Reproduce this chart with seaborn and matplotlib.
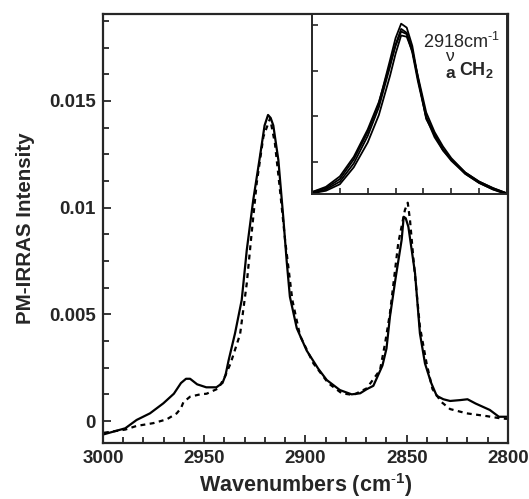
import numpy as np
import pandas as pd
import matplotlib
matplotlib.use("Agg")
import matplotlib.pyplot as plt
from matplotlib.ticker import MultipleLocator
import seaborn as sns

# Main spectrum, solid trace (wavenumber in cm-1, PM-IRRAS intensity)
solid_wn = [2999.5, 2995, 2989, 2983.4, 2976.8, 2970.2, 2965, 2961.5, 2959, 2957,
            2953.5, 2949, 2944, 2941, 2939.5, 2938, 2934.8, 2931.5, 2929, 2925.8,
            2922.5, 2920.2, 2918.5, 2917.2, 2915.9, 2913.4, 2911, 2909.3, 2907.7, 2904.3,
            2899.4, 2893.7, 2889.5, 2883, 2877.2, 2873, 2869.8, 2866.5, 2862, 2860,
            2858.3, 2855.5, 2852.5, 2851.5, 2850.5, 2849.2, 2845.9, 2843.5, 2841, 2838,
            2835.2, 2831.9, 2828.6, 2823.7, 2820, 2816, 2809, 2804.5, 2800.5]
solid_int = [-0.00062, -0.0005, -0.00034, 0.00005, 0.00036, 0.00083, 0.00128, 0.00178, 0.00198, 0.00198,
             0.00172, 0.00158, 0.00158, 0.00178, 0.00215, 0.00283, 0.00411, 0.00567, 0.00801, 0.01036,
             0.01239, 0.01385, 0.01434, 0.0142, 0.01385, 0.01223, 0.00957, 0.0075, 0.00582, 0.00435,
             0.0033, 0.00245, 0.00192, 0.00145, 0.00125, 0.0013, 0.00149, 0.00165, 0.0026, 0.0034,
             0.00489, 0.0067, 0.0085, 0.00957, 0.0095, 0.0091, 0.00692, 0.00411, 0.0027, 0.0018,
             0.00118, 0.00102, 0.00094, 0.00098, 0.00102, 0.00082, 0.00052, 0.0002, 0.0002]

# Main spectrum, dashed trace
dash_wn = [2999.5, 2989, 2983.4, 2975.2, 2968.5, 2963.6, 2961.5, 2960.3, 2957, 2952,
           2948.8, 2943, 2939.8, 2937, 2932.3, 2929, 2926.6, 2924.1, 2920.8, 2917.5,
           2915.1, 2912.6, 2910.1, 2906.5, 2902.7, 2896.1, 2888.7, 2882.1, 2876.4, 2869.8,
           2863.2, 2860.7, 2858.3, 2854.2, 2850.9, 2849.5, 2848.4, 2846.8, 2843.5, 2840.2,
           2837.3, 2833, 2828.6, 2820.4, 2810.5, 2804, 2800.5]
dash_int = [-0.00055, -0.0004, -0.00023, -0.0001, 0.00008, 0.00036, 0.0006, 0.00088, 0.00114, 0.00125,
            0.00128, 0.00153, 0.00208, 0.0027, 0.00407, 0.00645, 0.0088, 0.01114, 0.01332, 0.01418,
            0.01301, 0.01082, 0.0085, 0.00567, 0.004, 0.0027, 0.00177, 0.0013, 0.00122, 0.00153,
            0.00239, 0.00364, 0.00505, 0.00833, 0.00989, 0.01023, 0.00942, 0.0077, 0.00442, 0.0027,
            0.0015, 0.0009, 0.00056, 0.00036, 0.00023, 0.00013, 0.0001]

# Inset: the 2918 cm-1 band for four spectra
inset_wn = [2950, 2945, 2940, 2935, 2930, 2926, 2922, 2920, 2918, 2916,
            2914, 2912, 2909, 2906, 2903, 2900, 2895, 2890, 2885, 2880]
inset_a = [0.0012, 0.0015, 0.0022, 0.0037, 0.0058, 0.0080, 0.0113, 0.0130, 0.0141, 0.0138,
           0.0124, 0.0100, 0.0068, 0.0056, 0.0044, 0.0037, 0.0027, 0.0020, 0.0015, 0.0011]
inset_b = [0.0011, 0.0014, 0.0020, 0.0034, 0.0055, 0.0077, 0.0108, 0.0125, 0.0137, 0.0134,
           0.0121, 0.0099, 0.0070, 0.0056, 0.0045, 0.0037, 0.0026, 0.0019, 0.0014, 0.0011]
inset_c = [0.0011, 0.0013, 0.0018, 0.0031, 0.0050, 0.0071, 0.0101, 0.0118, 0.0132, 0.0131,
           0.0120, 0.0101, 0.0073, 0.0058, 0.0047, 0.0038, 0.0027, 0.0020, 0.0015, 0.0011]
inset_d = [0.0012, 0.0016, 0.0024, 0.0039, 0.0060, 0.0081, 0.0110, 0.0124, 0.0135, 0.0133,
           0.0119, 0.0097, 0.0069, 0.0054, 0.0044, 0.0036, 0.0026, 0.0019, 0.0014, 0.0010]

x_ticks = [3000, 2950, 2900, 2850, 2800]
y_ticks = [0, 0.005, 0.01, 0.015]
y_tick_labels = ["0", "0.005", "0.01", "0.015"]

sns.set_style("ticks")
plt.rcParams["font.family"] = ["Liberation Sans", "DejaVu Sans"]
plt.rcParams["mathtext.fontset"] = "custom"
plt.rcParams["mathtext.rm"] = "Liberation Sans"
plt.rcParams["mathtext.it"] = "Liberation Sans:italic"
plt.rcParams["mathtext.bf"] = "Liberation Sans:bold"

fig = plt.figure(figsize=(5.29, 4.99), dpi=100)
ax = fig.add_axes([0.1947, 0.1122, 0.7656, 0.8597])

main = pd.DataFrame({"wn": solid_wn, "intensity": solid_int})
ref = pd.DataFrame({"wn": dash_wn, "intensity": dash_int})
sns.lineplot(data=main, x="wn", y="intensity", sort=False, ax=ax,
             color="black", lw=1.6)
sns.lineplot(data=ref, x="wn", y="intensity", sort=False, ax=ax,
             color="black", lw=1.6, linestyle=(0, (2.2, 2.0)))

ax.set_xlim(3000, 2800)
ax.set_ylim(-0.00103, 0.01907)
ax.set_xticks(x_ticks)
ax.set_xticklabels([str(t) for t in x_ticks])
ax.xaxis.set_minor_locator(MultipleLocator(10))
ax.set_yticks(y_ticks)
ax.set_yticklabels(y_tick_labels)
ax.yaxis.set_minor_locator(MultipleLocator(0.00125))
ax.tick_params(which="major", direction="in", length=6, width=1.3,
               labelsize=13.5, pad=5)
ax.tick_params(which="minor", direction="in", length=4.5, width=1.3)
for lab in ax.get_xticklabels() + ax.get_yticklabels():
    lab.set_fontweight("bold")
for sp in ax.spines.values():
    sp.set_linewidth(1.6)
    sp.set_visible(True)
ax.set_xlabel("Wavenumbers (cm$^{\\mathbf{\\text{-}1}}$)", fontsize=15.5,
              fontweight="bold", labelpad=3)
ax.set_ylabel("PM-IRRAS Intensity", fontsize=14.8, fontweight="bold",
              labelpad=10)

# Inset with the asymmetric CH2 stretching band
ins = fig.add_axes([0.5898, 0.6112, 0.3686, 0.3607])
for series in (inset_a, inset_b, inset_c, inset_d):
    band = pd.DataFrame({"wn": inset_wn, "intensity": series})
    sns.lineplot(data=band, x="wn", y="intensity", sort=False, ax=ins,
                 color="black", lw=1.3)
ins.set_xlim(2950, 2880)
ins.set_ylim(0.00105, 0.01484)
ins.xaxis.set_major_locator(MultipleLocator(10))
ins.set_yticks([0.0035, 0.007, 0.0105, 0.014])
ins.tick_params(direction="in", length=4, width=1.2,
                labelbottom=False, labelleft=False)
ins.set_xlabel("")
ins.set_ylabel("")
for sp in ins.spines.values():
    sp.set_linewidth(1.4)
    sp.set_visible(True)
ins.text(0.568, 0.809, "2918cm$^{\\text{-1}}$", transform=ins.transAxes,
         fontsize=13, ha="left", va="baseline")
# band label: nu stacked over a bold "a", then bold CH2
ins.text(0.680, 0.680, "$^{\\mathrm{\\nu}}_{\\mathbf{a}}$",
         transform=ins.transAxes, fontsize=18, ha="left", va="baseline")
ins.text(0.752, 0.661, "CH$_{\\mathbf{2}}$", transform=ins.transAxes,
         fontsize=13, fontweight="bold", ha="left", va="baseline")

fig.savefig("out.png", dpi=100)
